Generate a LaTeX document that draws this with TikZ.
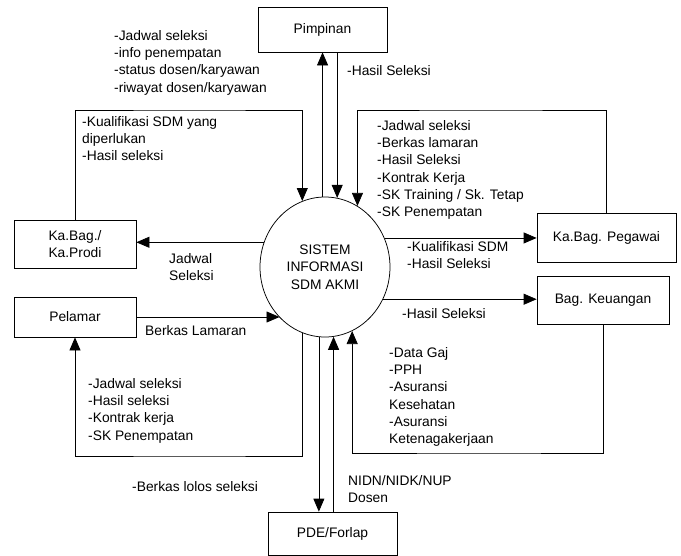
\documentclass[tikz,border=0pt]{standalone}
\usepackage{fontspec}
\setmainfont{Liberation Sans}
\usetikzlibrary{shapes.geometric,arrows.meta}
\tikzset{
	box/.style={draw, line width=0.75pt, rectangle, align=center, inner sep=0pt},
	proses/.style={draw, ellipse, line width=0.75pt, align=center, inner sep=0pt, minimum width=130pt, minimum height=140pt},
	note/.style={anchor=north west, inner sep=0pt, align=left},
	flow/.style={line width=0.75pt, -{Triangle[length=13pt,width=11pt]}}
}
\begin{document}
\begin{tikzpicture}[x=1pt, y=-1pt, font=\fontsize{13.8}{17.3}\selectfont]
	\useasboundingbox (0,0) rectangle (681,555);
	\node[proses] (sys) at (325,267) {SISTEM\\INFORMASI\\SDM AKMI};
	\node[box, minimum width=129pt, minimum height=45pt] (pimpinan) at (322.5,29.5) {Pimpinan};
	\node[box, minimum width=122pt, minimum height=48pt] (kabag) at (75,244) {Ka.Bag./\\Ka.Prodi};
	\node[box, minimum width=122pt, minimum height=40pt] (pelamar) at (75,317) {Pelamar};
	\node[box, minimum width=139pt, minimum height=49pt] (pegawai) at (606.5,237.5) {Ka.Bag. Pegawai};
	\node[box, minimum width=132pt, minimum height=48pt] (keuangan) at (603,300) {Bag. Keuangan};
	\node[box, minimum width=129pt, minimum height=43pt] (pde) at (332.5,533.5) {PDE/Forlap};

	\coordinate (kq) at (190,110);
	\coordinate (pq) at (480,110);
	\coordinate (kr) at (480,453);
	\coordinate (pr) at (190,456);

	\draw[flow] (sys.92) -- (sys.92 |- pimpinan.south);
	\draw[flow] (pimpinan.south -| sys.80) -- (sys.80);
	\draw[flow] (kabag.north) |- (kq) -| (sys.109);
	\draw[flow] (pegawai.north) |- (pq) -| (sys.62);
	\draw[flow] (sys.158) -- (sys.158 -| kabag.east);
	\draw[flow] (sys.26) -- (sys.26 -| pegawai.west);
	\draw[flow] (sys.331) -- (sys.331 -| keuangan.west);
	\draw[flow] (keuangan.south) |- (kr) -| (sys.293);
	\draw[flow] (pelamar.east) -- (pelamar.east -| sys.228);
	\draw[flow] (sys.251) |- (pr) -| (pelamar.south);
	\draw[flow] (sys.265) -- (sys.265 |- pde.north);
	\draw[flow] (pde.north -| sys.277) -- (sys.277);

	\node[note] (tPim) at (114,30) {-Jadwal seleksi\\-info penempatan\\-status dosen/karyawan\\-riwayat dosen/karyawan};
	\node[note] (tHasilPim) at (347,65) {-Hasil Seleksi};
	\node[note] (tKual) at (82,116) {-Kualifikasi SDM yang\\diperlukan\\-Hasil seleksi};
	\node[note] (tPeg) at (377,120) {-Jadwal seleksi\\-Berkas lamaran\\-Hasil Seleksi\\-Kontrak Kerja\\-SK Training / Sk. Tetap\\-SK Penempatan};
	\node[note] (tJadwal) at (169,253) {Jadwal\\Seleksi};
	\node[note] (tKualPeg) at (407,241) {-Kualifikasi SDM\\-Hasil Seleksi};
	\node[note] (tBerkas) at (145,325) {Berkas Lamaran};
	\node[note] (tHasilKeu) at (402,308) {-Hasil Seleksi};
	\node[note] (tKeu) at (389,347) {-Data Gaj\\-PPH\\-Asuransi\\Kesehatan\\-Asuransi\\Ketenagakerjaan};
	\node[note] (tPel) at (88,378) {-Jadwal seleksi\\-Hasil seleksi\\-Kontrak kerja\\-SK Penempatan};
	\node[note] (tLolos) at (132,481) {-Berkas lolos seleksi};
	\node[note] (tNidn) at (348,475) {NIDN/NIDK/NUP\\Dosen};
\end{tikzpicture}
\end{document}
